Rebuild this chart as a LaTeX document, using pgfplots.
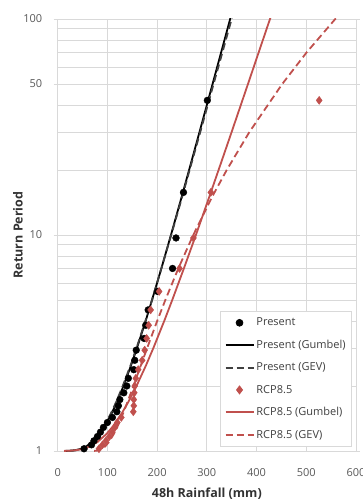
\documentclass[border=0pt]{standalone}
\usepackage{fontspec}
\setmainfont{Open Sans}
\usepackage{pgfplots}
\pgfplotsset{compat=1.18}
\definecolor{rcp}{RGB}{192,80,77}
\definecolor{gridc}{RGB}{217,217,217}
\definecolor{tickc}{RGB}{89,89,89}
\definecolor{titc}{RGB}{50,50,50}
\definecolor{gevgray}{RGB}{64,64,64}
\begin{document}
\begin{tikzpicture}
\useasboundingbox (-57.7pt,-50pt) rectangle (305.3pt,451pt);
\begin{axis}[
  scale only axis, width=298.3pt, height=432pt,
  at={(0pt,0pt)}, anchor=south west,
  xmin=0, xmax=600, ymode=log, ymin=1, ymax=100,
  xtick={0,100,...,600},
  ytick={1,10,50,100}, yticklabels={1,10,50,100},
  minor ytick={2,3,4,5,6,7,8,9,20,30,40,60,70,80,90},
  grid=both,
  major grid style={draw=gridc, line width=0.8pt},
  minor grid style={draw=gridc, line width=0.8pt},
  axis line style={draw=gridc, line width=0.8pt},
  xtick style={draw=none},
  ytick style={draw=gridc, line width=0.8pt},
  minor tick length=0pt, major tick length=4pt, tick align=outside,
  /pgf/number format/assume math mode=true,
  font=\fontsize{11}{13}\selectfont,
  ticklabel style={text=tickc, font=\fontsize{11}{13}\selectfont},
  xticklabel style={yshift=-10pt},
  yticklabel style={xshift=-8pt},
  xlabel={\textbf{48h Rainfall (mm)}},
  ylabel={\textbf{Return Period}},
  xlabel style={at={(axis description cs:0.5,-0.099)}, anchor=center, text=titc, font=\fontsize{12.5}{15}\selectfont},
  ylabel style={at={(axis description cs:-0.133,0.5)}, anchor=center, text=titc, font=\fontsize{12.5}{15}\selectfont},
  legend image code/.code={\draw[mark repeat=2,mark phase=2,#1] plot coordinates {(0pt,0pt) (14pt,0pt) (28pt,0pt)};},
  legend cell align=left,
  legend style={at={(axis description cs:0.9866,0.0093)}, anchor=south east,
    draw=gridc, fill=white, line width=0.8pt, text=gevgray,
    font=\fontsize{11}{13}\selectfont, row sep=8.8pt,
    inner xsep=4pt, inner ysep=5pt},
]
\addplot[only marks, mark=*, mark size=3.4pt, black] coordinates {
(301,42)(253,15.75)(238,9.69)(231,7.0)(201,5.48)(182,4.5)(177,3.82)(174,3.32)(158,2.93)(155,2.63)(153,2.38)(142,2.17)(139,2.0)(133,1.86)(125,1.73)(122,1.62)(119,1.52)(110,1.43)(100,1.355)(92,1.286)(86,1.223)(80,1.167)(73,1.115)(68,1.068)(53,1.024)
};
\addlegendentry{Present}
\addplot[black, line width=1.8pt, mark=none] coordinates {
(15.7,1.001)(21.1,1.002)(29.1,1.005)(36.2,1.01)(44.3,1.02)(49.7,1.03)(57.3,1.05)(69.4,1.1)(84.1,1.2)(94.3,1.3)(108.9,1.5)(119.8,1.7)(132.3,2)(147.8,2.5)(159.5,3)(176.9,4)(189.7,5)(208.5,7)(227.8,10)(249.3,15)(264.3,20)(285.3,30)(311.5,50)(328.7,70)(346.9,100)(356.2,120)
};
\addlegendentry{Present (Gumbel)}
\addplot[gevgray, line width=1.8pt, dash pattern=on 7pt off 4pt, mark=none] coordinates {
(23.7,1.001)(27.1,1.002)(33.1,1.005)(39.2,1.01)(46.3,1.02)(51.2,1.03)(58.3,1.05)(69.4,1.1)(83.1,1.2)(93.3,1.3)(107.4,1.5)(118.3,1.7)(130.8,2)(146.8,2.5)(158.5,3)(176.4,4)(189.7,5)(208.5,7)(228.3,10)(250.3,15)(265.3,20)(286.8,30)(313.5,50)(331.2,70)(349.9,100)(360.2,120)
};
\addlegendentry{Present (GEV)}
\addplot[only marks, mark=diamond*, mark size=4pt, rcp] coordinates {
(526,42)(308,15.75)(273,9.69)(245,7.0)(204,5.48)(187,4.5)(183,3.82)(179,3.32)(175,2.93)(170,2.63)(162,2.38)(157,2.17)(155,2.0)(154,1.86)(153,1.73)(153,1.62)(152,1.52)(128,1.43)(120,1.355)(115,1.286)(110,1.223)(104,1.167)(97,1.115)(90,1.068)(83,1.024)
};
\addlegendentry{RCP8.5}
\addplot[rcp, line width=1.8pt, mark=none] coordinates {
(12.7,1.001)(19.5,1.002)(29.5,1.005)(38.4,1.01)(48.5,1.02)(55.2,1.03)(64.7,1.05)(79.9,1.1)(98.3,1.2)(111.0,1.3)(129.3,1.5)(142.9,1.7)(158.5,2)(177.9,2.5)(192.5,3)(214.3,4)(230.4,5)(253.8,7)(278.0,10)(304.8,15)(323.6,20)(349.9,30)(382.7,50)(404.2,70)(427.0,100)(438.6,120)
};
\addlegendentry{RCP8.5 (Gumbel)}
\addplot[rcp, line width=1.8pt, dash pattern=on 7pt off 4pt, mark=none] coordinates {
(73.3,1.001)(75.9,1.002)(79.9,1.005)(83.6,1.01)(88.0,1.02)(91.0,1.03)(95.5,1.05)(103.0,1.1)(113.0,1.2)(120.4,1.3)(131.9,1.5)(141.0,1.7)(152.3,2)(167.5,2.5)(180.0,3)(200.1,4)(216.5,5)(242.6,7)(272.7,10)(310.5,15)(340.0,20)(385.7,30)(451.6,50)(500.6,70)(558.3,100)(590.2,120)
};
\addlegendentry{RCP8.5 (GEV)}
\end{axis}
\end{tikzpicture}
\end{document}
